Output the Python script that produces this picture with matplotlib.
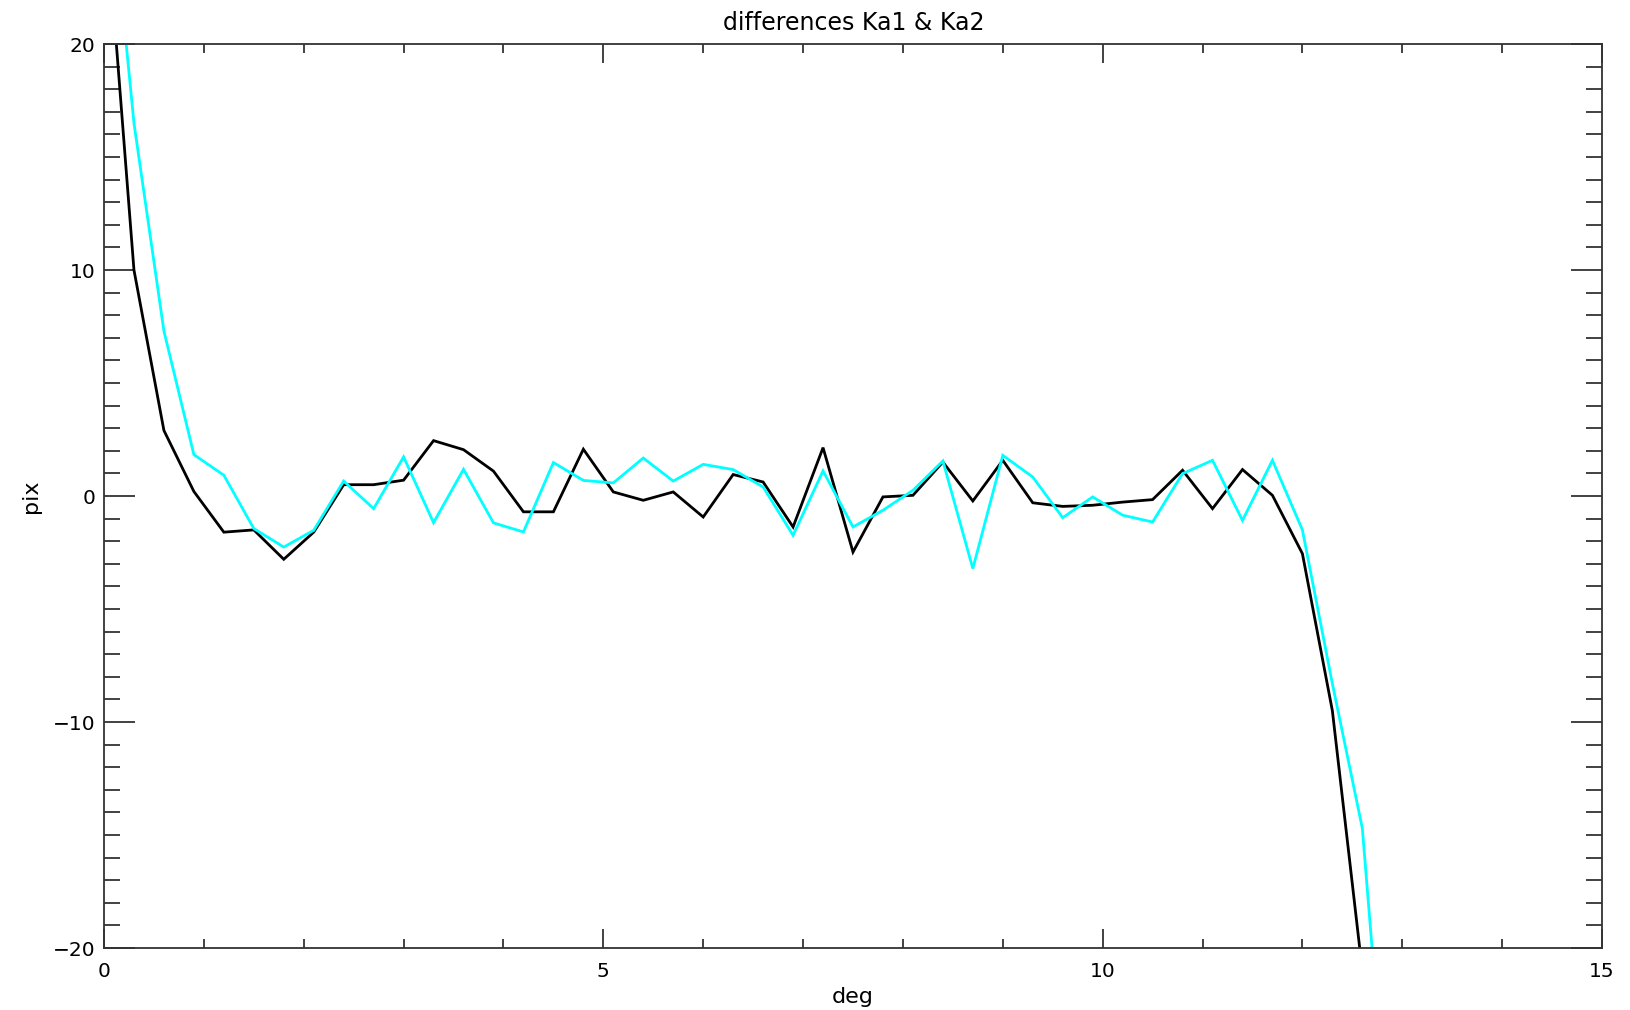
import matplotlib
matplotlib.use("Agg")
import matplotlib.pyplot as plt
from matplotlib.ticker import MultipleLocator

# ---- data ----
deg = [0.0, 0.3, 0.6, 0.9, 1.2, 1.5, 1.8, 2.1, 2.4, 2.7, 3.0, 3.3, 3.6, 3.9,
       4.2, 4.5, 4.8, 5.1, 5.4, 5.7, 6.0, 6.3, 6.6, 6.9, 7.2, 7.5, 7.8, 8.1,
       8.4, 8.7, 9.0, 9.3, 9.6, 9.9, 10.2, 10.5, 10.8, 11.1, 11.4, 11.7,
       12.0, 12.3, 12.6, 12.9]

ka1 = [27.0, 10.0, 2.9, 0.2, -1.6, -1.5, -2.8, -1.6, 0.5, 0.5, 0.7, 2.45,
       2.05, 1.1, -0.7, -0.7, 2.07, 0.18, -0.19, 0.18, -0.93, 0.95, 0.62,
       -1.37, 2.14, -2.48, -0.04, 0.03, 1.50, -0.22, 1.58, -0.3, -0.46,
       -0.41, -0.27, -0.16, 1.14, -0.56, 1.17, 0.03, -2.55, -9.5, -21.0]

ka2 = [30.0, 16.5, 7.3, 1.83, 0.92, -1.44, -2.26, -1.52, 0.66, -0.56, 1.73,
       -1.18, 1.18, -1.19, -1.59, 1.48, 0.69, 0.58, 1.68, 0.66, 1.40, 1.17,
       0.40, -1.74, 1.11, -1.37, -0.63, 0.25, 1.55, -3.21, 1.80, 0.84,
       -0.96, -0.04, -0.85, -1.15, 0.99, 1.58, -1.08, 1.58, -1.5, -8.3,
       -14.7, -31.0]

title = "differences Ka1 & Ka2"
xlabel = "deg"
ylabel = "pix"

# ---- figure ----
W, H = 1631, 1010
fig = plt.figure(figsize=(W / 100, H / 100), dpi=100)
left, right, top, bottom = 104, 1602, 44, 948
ax = fig.add_axes([left / W, 1 - bottom / H, (right - left) / W, (bottom - top) / H])

ax.plot(deg[:len(ka1)], ka1, color="black", lw=2.0, solid_joinstyle="miter")
ax.plot(deg[:len(ka2)], ka2, color="#00FFFF", lw=2.0, solid_joinstyle="miter")

ax.set_xlim(0, 15)
ax.set_ylim(-20, 20)

ax.xaxis.set_major_locator(MultipleLocator(5))
ax.xaxis.set_minor_locator(MultipleLocator(1))
ax.yaxis.set_major_locator(MultipleLocator(10))
ax.yaxis.set_minor_locator(MultipleLocator(1))

spine_col = "#333333"
for s in ax.spines.values():
    s.set_color(spine_col)
    s.set_linewidth(1.3)

ax.tick_params(axis="both", which="both", direction="in", top=True, right=True,
               color=spine_col, width=1.3, labelsize=14.5, labelcolor="black")
ax.tick_params(axis="x", which="major", length=13.5, pad=10)
ax.tick_params(axis="x", which="minor", length=6.8)
ax.tick_params(axis="y", which="major", length=22.3, pad=6)
ax.tick_params(axis="y", which="minor", length=11.2)

ax.set_xlabel(xlabel, fontsize=16, va="center")
ax.xaxis.set_label_coords(0.5, -0.054)
ax.set_ylabel(ylabel, fontsize=16, va="center")
ax.yaxis.set_label_coords(-0.0487, 0.5)

ax.text(0.5007, 1.0232, title, transform=ax.transAxes, ha="center",
        va="center", fontsize=17)

fig.savefig("out.png", dpi=100)
